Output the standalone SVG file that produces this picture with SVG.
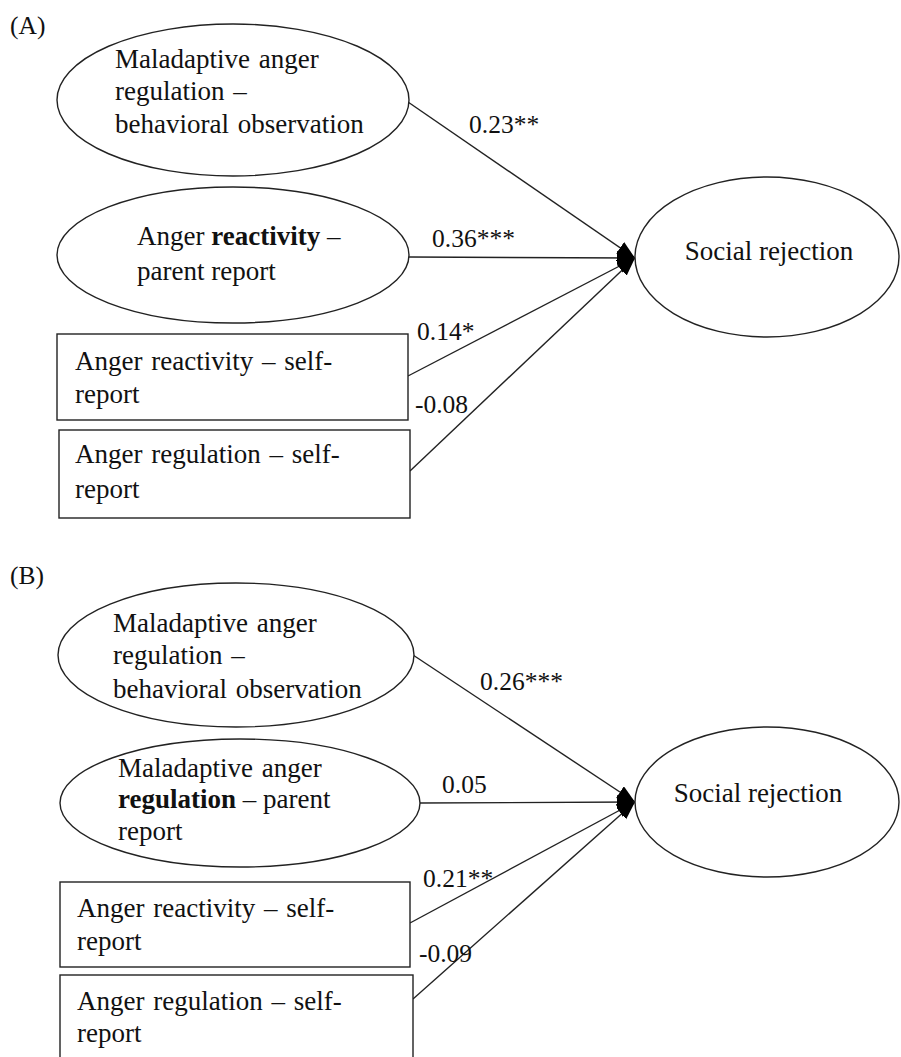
<svg xmlns="http://www.w3.org/2000/svg" width="901" height="1057" viewBox="0 0 901 1057">
<defs>
<style>
text{font-family:"Liberation Serif","Times New Roman",serif;font-size:27px;fill:#111;}
.lb{font-size:25.5px;}
.n{fill:#fff;stroke:#222;stroke-width:1.4;}
.c{stroke:#222;stroke-width:1.4;fill:none;marker-end:url(#ah);}
.ws{word-spacing:2px;}
</style>
<marker id="ah" markerUnits="userSpaceOnUse" markerWidth="20" markerHeight="16" refX="18" refY="7" orient="auto">
<path d="M0,0 L18,7 L0,14 Z" fill="#000"/>
</marker>
</defs>
<rect width="901" height="1057" fill="#fff"/>

<text class="lb" x="10" y="34">(A)</text>
<text class="lb" x="10" y="584">(B)</text>

<g id="connectors">
<line class="c" x1="408" y1="102" x2="635" y2="258"/>
<line class="c" x1="409" y1="257" x2="635" y2="258"/>
<line class="c" x1="408" y1="376" x2="635" y2="258"/>
<line class="c" x1="410" y1="471" x2="635" y2="258"/>
<line class="c" x1="413" y1="655" x2="635" y2="802"/>
<line class="c" x1="420" y1="803" x2="635" y2="802"/>
<line class="c" x1="410" y1="923" x2="635" y2="802"/>
<line class="c" x1="413" y1="999" x2="635" y2="802"/>
<text class="lb" x="469" y="133">0.23**</text>
<text class="lb" x="432" y="247">0.36***</text>
<text class="lb" x="417" y="340">0.14*</text>
<text class="lb" x="415" y="413">-0.08</text>
<text class="lb" x="480" y="690">0.26***</text>
<text class="lb" x="442" y="793">0.05</text>
<text class="lb" x="423" y="887">0.21**</text>
<text class="lb" x="419" y="962">-0.09</text>
</g>

<g id="a-maladaptive-observation">
<ellipse class="n" cx="233" cy="100" rx="176" ry="76"/>
<text x="115" y="68" class="ws">Maladaptive anger</text>
<text x="115" y="100" class="ws">regulation –</text>
<text x="115" y="133" class="ws">behavioral observation</text>
</g>
<g id="a-reactivity-parent">
<ellipse class="n" cx="233" cy="255" rx="176" ry="68"/>
<text x="137" y="245">Anger <tspan font-weight="bold">reactivity</tspan> –</text>
<text x="137" y="280">parent report</text>
</g>
<g id="a-reactivity-self">
<rect class="n" x="57" y="334" width="351" height="86"/>
<text x="75" y="370" class="ws">Anger reactivity – self-</text>
<text x="75" y="403">report</text>
</g>
<g id="a-regulation-self">
<rect class="n" x="59" y="430" width="351" height="88"/>
<text x="75" y="463" class="ws">Anger regulation – self-</text>
<text x="75" y="498">report</text>
</g>
<g id="a-social-rejection">
<ellipse class="n" cx="767" cy="257" rx="132" ry="80"/>
<text x="769" y="260" text-anchor="middle">Social rejection</text>
</g>

<g id="b-maladaptive-observation">
<ellipse class="n" cx="236" cy="655" rx="178" ry="72"/>
<text x="113" y="632" class="ws">Maladaptive anger</text>
<text x="113" y="664" class="ws">regulation –</text>
<text x="113" y="698" class="ws">behavioral observation</text>
</g>
<g id="b-regulation-parent">
<ellipse class="n" cx="240" cy="803" rx="180" ry="64"/>
<text x="118" y="777" class="ws">Maladaptive anger</text>
<text x="118" y="808"><tspan font-weight="bold">regulation</tspan> – parent</text>
<text x="118" y="840">report</text>
</g>
<g id="b-reactivity-self">
<rect class="n" x="60" y="882" width="350" height="85"/>
<text x="77" y="917" class="ws">Anger reactivity – self-</text>
<text x="77" y="950">report</text>
</g>
<g id="b-regulation-self">
<rect class="n" x="60" y="975" width="353" height="95"/>
<text x="77" y="1010" class="ws">Anger regulation – self-</text>
<text x="77" y="1042">report</text>
</g>
<g id="b-social-rejection">
<ellipse class="n" cx="767" cy="802" rx="132" ry="75"/>
<text x="758" y="802" text-anchor="middle">Social rejection</text>
</g>
</svg>
